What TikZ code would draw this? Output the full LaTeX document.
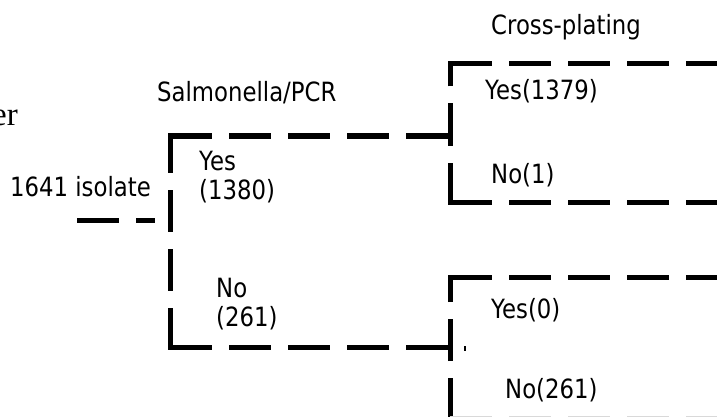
\documentclass[tikz,border=0pt]{standalone}
\usepackage{fontspec}
\setmainfont{DejaVu Sans}[FakeStretch=0.86]
\newfontfamily\seriffont{Liberation Serif}
\begin{document}
\begin{tikzpicture}[x=1pt,y=-1pt,
  lbl/.style={anchor=base west,inner sep=0pt,font=\fontsize{26.5}{28.5}\selectfont,align=left},
  dline/.style={line width=5pt,dash pattern=on 42pt off 17pt},
  sline/.style={line width=5pt}]
\useasboundingbox (0,0) rectangle (717,417);
% text
\node[anchor=base east,inner sep=0pt,font=\seriffont\fontsize{33}{36}\selectfont] (er) at (18,125) {er};
\node[lbl] (iso) at (10,196) {1641 isolate};
\node[lbl] (pcr) at (157,102) {Salmonella/PCR};
\node[lbl] (cross) at (491,35) {Cross-plating};
\node[lbl] (yes1) at (199,199) {Yes\\(1380)};
\node[lbl] (no1) at (216,326) {No\\(261)};
\node[lbl] (yes2) at (485,100) {Yes(1379)};
\node[lbl] (no2) at (491,183) {No(1)};
\node[lbl] (yes3) at (491,318) {Yes(0)};
\node[lbl] (no3) at (505,398) {No(261)};
% coordinates
\coordinate (root) at (77,220);
\coordinate (rootend) at (155,220);
\coordinate (sTopV) at (170,133.5);
\coordinate (sBotV) at (170,349.5);
\coordinate (sTop) at (170,136);
\coordinate (sBot) at (170,347);
\coordinate (aIn) at (448,136);
\coordinate (bIn) at (448,347);
\coordinate (aTopV) at (450,61.5);
\coordinate (aBotV) at (450,204.5);
\coordinate (aTop) at (450,64);
\coordinate (aBot) at (450,202);
\coordinate (aTopE) at (720,64);
\coordinate (aBotE) at (720,202);
\coordinate (bTopV) at (450,274.5);
\coordinate (bBotV) at (450,420);
\coordinate (bTop) at (450,277);
\coordinate (bTopE) at (720,277);
\coordinate (bBot) at (450,416.5);
\coordinate (bBotE) at (720,416.5);
% root line
\draw[dline] (root) -- (rootend);
% Salmonella bracket
\draw[dline] (sBotV) -- (sTopV);
\draw[dline] (sTop) -- (aIn);
\draw[dline] (sBot) -- (bIn);
% upper cross-plating bracket
\draw[dline] (aBotV) -- (aTopV);
\draw[dline] (aTop) -- (aTopE);
\draw[dline] (aBot) -- (aBotE);
% lower cross-plating bracket
\draw[dline] (bBotV) -- (bTopV);
\draw[dline] (bTop) -- (bTopE);
\draw[line width=1pt,gray!30,dash pattern=on 42pt off 17pt] (bBot) -- (bBotE);
% small dot
\fill (463.5,345.5) rectangle (466,350.5);
\end{tikzpicture}
\end{document}
